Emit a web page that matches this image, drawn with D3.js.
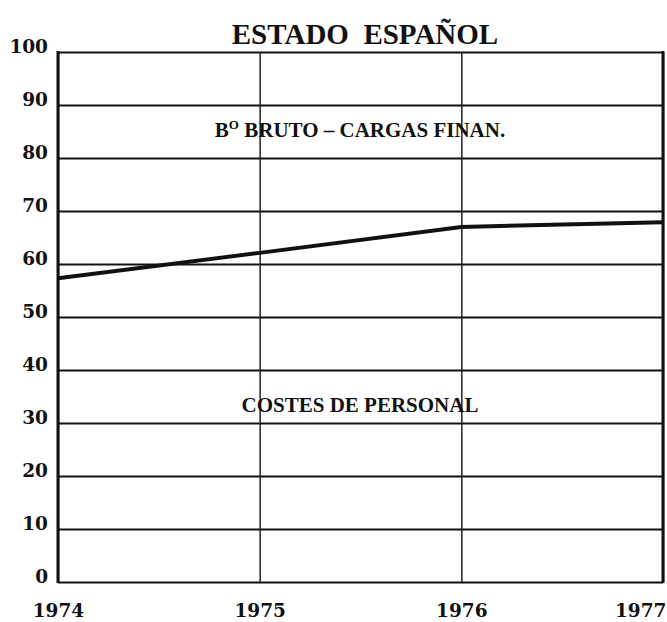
<!DOCTYPE html>
<html lang="es">
	<head>
		<meta charset="utf-8">
		<title>Estado Español</title>
		<script type="text/javascript" src="https://cdn.jsdelivr.net/npm/d3@7"></script>
		<style type="text/css">
			body{margin:0;background-color:#fff;}
			svg{display:block;}
			.num{font-family:"DejaVu Serif",serif;font-weight:bold;font-size:18.5px;fill:#111;}
			.lab{font-family:"Liberation Serif","Times New Roman",serif;font-weight:bold;fill:#111;}
		</style>
	</head>
	<body>
		<script type="text/javascript">

			// values
			var years = [1974, 1975, 1976, 1977];
			var brutoLine = [57.3, 62.1, 67.0, 67.9];
			var yTicks = [0, 10, 20, 30, 40, 50, 60, 70, 80, 90, 100];
			var title = "ESTADO  ESPAÑOL";
			var areaLabels = [["B", "O", " BRUTO – CARGAS FINAN."], ["COSTES DE PERSONAL", "", ""]];
			var areaLabelValues = [84, 32];

			var W = 667;
			var H = 622;
			var margin = {top: 52, right: 4, bottom: 40, left: 58};
			var w = W - margin.left - margin.right;
			var h = H - margin.top - margin.bottom;

			var svg = d3.select("body")
						.append("svg")
						.attr("width", W)
						.attr("height", H);

			var g = svg.append("g")
						.attr("transform", "translate(" + margin.left + "," + margin.top + ")");

			var x = d3.scaleLinear()
						.domain([years[0], years[years.length - 1]])
						.range([0, w]);

			var y = d3.scaleLinear()
						.domain([0, 100])
						.range([h, 0]);

			//horizontal grid + y labels
			var yAxis = g.append("g")
						.call(d3.axisLeft(y).tickValues(yTicks).tickSize(-w).tickPadding(10));
			yAxis.select(".domain").remove();
			yAxis.selectAll("line")
				.style("stroke", "#111")
				.style("stroke-width", "2");
			yAxis.selectAll("text")
				.attr("class", "num")
				.attr("dy", "0");

			//vertical grid + year labels
			var xAxis = g.append("g")
						.attr("transform", "translate(0," + h + ")")
						.call(d3.axisBottom(x).tickValues(years).tickFormat(d3.format("d")).tickSize(-h));
			xAxis.select(".domain").remove();
			xAxis.selectAll("line")
				.style("stroke", "#222")
				.style("stroke-width", "1.5");
			xAxis.selectAll("text")
				.attr("class", "num")
				.attr("y", 35)
				.attr("dy", "0")
				.attr("text-anchor", function(d, i) {
					return i == years.length - 1 ? "end" : "middle";
				})
				.attr("dx", function(d, i) {
					return i == years.length - 1 ? 3 : 0;
				});

			//side borders are heavier
			g.selectAll("line.border")
				.data([years[0], years[years.length - 1]])
				.enter()
				.append("line")
				.attr("class", "border")
				.attr("x1", function(d) { return x(d); })
				.attr("x2", function(d) { return x(d); })
				.attr("y1", y(100) - 1)
				.attr("y2", y(0) + 1)
				.style("stroke", "#111")
				.style("stroke-width", "3");

			//the one curve
			var line = d3.line()
						.x(function(d, i) { return x(years[i]); })
						.y(function(d) { return y(d); });

			g.append("path")
				.datum(brutoLine)
				.attr("d", line)
				.style("fill", "none")
				.style("stroke", "#111")
				.style("stroke-width", "4");

			//labels inside the chart (middle part is a raised small O)
			var labs = g.selectAll("text.area")
				.data(areaLabels)
				.enter()
				.append("text")
				.attr("class", "lab area")
				.attr("x", 302)
				.attr("y", function(d, i) { return y(areaLabelValues[i]); })
				.attr("text-anchor", "middle")
				.style("font-size", "21px");

			labs.append("tspan").text(function(d) { return d[0]; });
			labs.append("tspan")
				.attr("dy", -8)
				.style("font-size", "13px")
				.text(function(d) { return d[1]; });
			labs.append("tspan")
				.attr("dy", function(d) { return d[1] ? 8 : 0; })
				.style("white-space", "pre")
				.text(function(d) { return d[2]; });

			svg.append("text")
				.attr("class", "lab")
				.attr("x", 365)
				.attr("y", 44)
				.attr("text-anchor", "middle")
				.style("font-size", "29px")
				.style("white-space", "pre")
				.text(title);

		</script>
	</body>
</html>
